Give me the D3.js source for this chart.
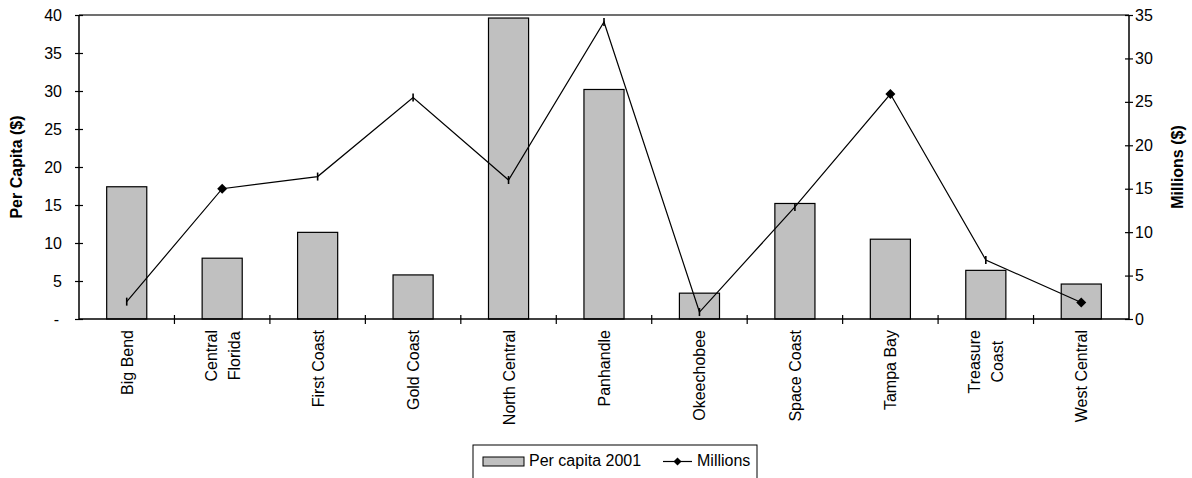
<!DOCTYPE html>
<html>
<head>
<meta charset="utf-8">
<script src="https://cdn.jsdelivr.net/npm/d3@7"></script>
<style>
  body { margin: 0; background: #fff; }
  text { font-family: "Liberation Sans", Arial, sans-serif; fill: #000; }
  .axis-title { font-weight: bold; font-size: 16px; }
</style>
</head>
<body>
<svg id="chart" width="1192" height="478"></svg>
<script>
const categories = ["Big Bend", "Central Florida", "First Coast", "Gold Coast", "North Central",
    "Panhandle", "Okeechobee", "Space Coast", "Tampa Bay", "Treasure Coast", "West Central"];
const categoryLabels = [["Big Bend"], ["Central", "Florida"], ["First Coast"], ["Gold Coast"],
    ["North Central"], ["Panhandle"], ["Okeechobee"], ["Space Coast"], ["Tampa Bay"],
    ["Treasure", "Coast"], ["West Central"]];
const perCapita = [17.4, 8.0, 11.4, 5.8, 39.6, 30.2, 3.4, 15.2, 10.5, 6.4, 4.6];
const millions = [2.0, 15.0, 16.4, 25.5, 16.0, 34.2, 0.8, 12.9, 25.9, 6.8, 1.9];
const leftTicks = [0, 5, 10, 15, 20, 25, 30, 35, 40];
const rightTicks = [0, 5, 10, 15, 20, 25, 30, 35];
// points where the marker shows as a full diamond in the original picture
const fullMarkers = ["Central Florida", "Tampa Bay", "West Central"];

const margin = { top: 15, right: 63, bottom: 159, left: 79 },
    width = 1192 - margin.left - margin.right,
    height = 478 - margin.top - margin.bottom;

const svg = d3.select("#chart");
const g = svg.append("g")
    .attr("transform", `translate(${margin.left},${margin.top})`);

const x = d3.scaleBand()
    .domain(categories)
    .range([0, width])
    .paddingInner(0.58)
    .paddingOuter(0.29);

const yLeft = d3.scaleLinear().domain([0, 40]).range([height, 0]);
const yRight = d3.scaleLinear().domain([0, 35]).range([height, 0]);

const rows = categories.map((c, i) => ({ cat: c, pc: perCapita[i], m: millions[i], lines: categoryLabels[i] }));

// plot top border
g.append("line")
    .attr("x1", 0).attr("x2", width)
    .attr("y1", 0).attr("y2", 0)
    .attr("stroke", "#404040").attr("stroke-width", 1.5);

// bars
g.selectAll("rect.bar")
    .data(rows)
    .enter()
    .append("rect")
    .attr("class", "bar")
    .attr("x", d => x(d.cat))
    .attr("y", d => yLeft(d.pc))
    .attr("width", x.bandwidth())
    .attr("height", d => height - yLeft(d.pc))
    .attr("fill", "#c0c0c0")
    .attr("stroke", "#000")
    .attr("stroke-width", 1.2);

// line
const cx = d => x(d.cat) + x.bandwidth() / 2;
g.append("path")
    .datum(rows)
    .attr("fill", "none")
    .attr("stroke", "#000")
    .attr("stroke-width", 1.2)
    .attr("d", d3.line().x(cx).y(d => yRight(d.m)));

g.selectAll("path.marker")
    .data(rows)
    .enter()
    .append("path")
    .attr("class", "marker")
    .attr("transform", d => `translate(${cx(d)},${yRight(d.m)})`)
    .attr("d", d => fullMarkers.includes(d.cat) ? "M0,-5L5,0L0,5L-5,0Z" : "M-0.8,-4H0.8V4H-0.8Z")
    .attr("fill", "#000");

// left axis
const axL = g.append("g")
    .call(d3.axisLeft(yLeft).tickValues(leftTicks).tickSize(4).tickPadding(13)
        .tickFormat(d => d === 0 ? "-" : d));
axL.select(".domain").attr("stroke", "#000").attr("stroke-width", 1.5).attr("d", `M0,0V${height}`);
axL.selectAll(".tick line").attr("x1", 4).attr("stroke-width", 1.2);
axL.selectAll(".tick text").attr("font-size", 16).attr("font-family", null);
axL.selectAll(".tick text").filter(d => d === 0).attr("dx", -3);

// right axis
const axR = g.append("g")
    .attr("transform", `translate(${width},0)`)
    .call(d3.axisRight(yRight).tickValues(rightTicks).tickSize(4).tickPadding(2));
axR.select(".domain").attr("stroke", "#000").attr("stroke-width", 1.5).attr("d", `M0,0V${height}`);
axR.selectAll(".tick line").attr("x1", -4).attr("stroke-width", 1.2);
axR.selectAll(".tick text").attr("font-size", 16).attr("font-family", null);

// bottom axis with ticks between categories
const step = x.step();
g.append("line")
    .attr("x1", 0).attr("x2", width)
    .attr("y1", height).attr("y2", height)
    .attr("stroke", "#000").attr("stroke-width", 1.5);
g.selectAll("line.xtick")
    .data(categories.slice(1))
    .enter()
    .append("line")
    .attr("class", "xtick")
    .attr("x1", d => x(d) - step * x.paddingInner() / 2)
    .attr("x2", d => x(d) - step * x.paddingInner() / 2)
    .attr("y1", height - 4).attr("y2", height + 5)
    .attr("stroke", "#000").attr("stroke-width", 1.2);

// category labels, rotated
const lineGap = 23;
rows.forEach(d => {
    const lab = g.append("g");
    const texts = d.lines.map((t, i) => lab.append("text")
        .attr("text-anchor", "middle")
        .attr("font-size", 16)
        .attr("y", (i - (d.lines.length - 1) / 2) * lineGap + 6)
        .text(t));
    const maxLen = d3.max(texts, t => t.node().getComputedTextLength());
    lab.attr("transform", `translate(${cx(d)},${height + 11 + maxLen / 2}) rotate(-90)`);
});

// axis titles
svg.append("text")
    .attr("class", "axis-title")
    .attr("text-anchor", "middle")
    .attr("transform", `translate(22,${margin.top + height / 2}) rotate(-90)`)
    .text("Per Capita ($)");

svg.append("text")
    .attr("class", "axis-title")
    .attr("text-anchor", "middle")
    .attr("transform", `translate(1183,${margin.top + height / 2}) rotate(-90)`)
    .text("Millions ($)");

// legend
const legend = svg.append("g").attr("transform", "translate(473,445)");
legend.append("rect")
    .attr("width", 284).attr("height", 40)
    .attr("fill", "#fff").attr("stroke", "#000").attr("stroke-width", 1);
legend.append("rect")
    .attr("x", 10).attr("y", 12).attr("width", 41).attr("height", 9)
    .attr("fill", "#c0c0c0").attr("stroke", "#000").attr("stroke-width", 1);
legend.append("text")
    .attr("x", 56).attr("y", 20.5).attr("font-size", 16)
    .text("Per capita 2001");
legend.append("line")
    .attr("x1", 190).attr("x2", 219).attr("y1", 16.5).attr("y2", 16.5)
    .attr("stroke", "#000").attr("stroke-width", 1.2);
legend.append("path")
    .attr("transform", "translate(204.5,16.5)")
    .attr("d", "M0,-4L4,0L0,4L-4,0Z")
    .attr("fill", "#000");
legend.append("text")
    .attr("x", 224).attr("y", 20.5).attr("font-size", 16)
    .text("Millions");
</script>
</body>
</html>
